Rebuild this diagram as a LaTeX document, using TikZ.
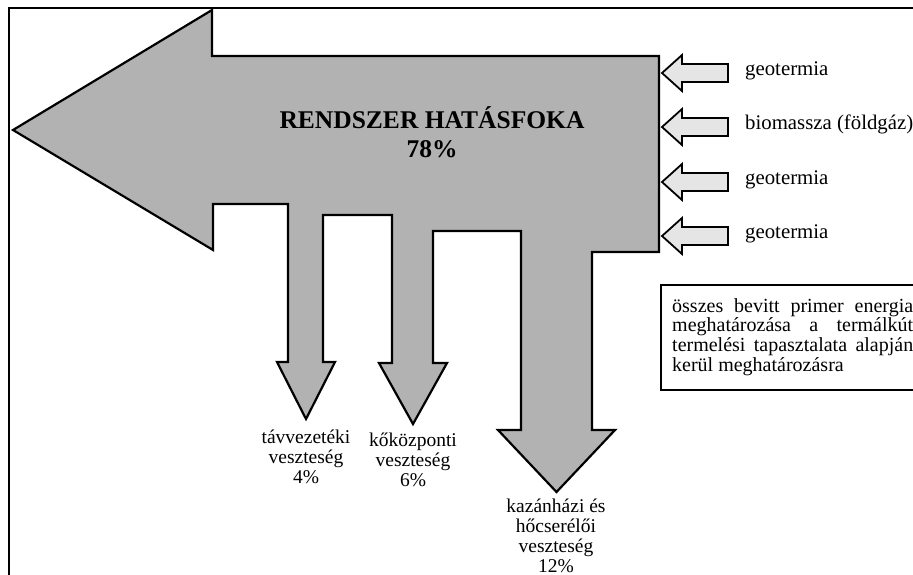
\documentclass[tikz,border=0pt]{standalone}
\usepackage{fontspec}
\setmainfont{Liberation Serif}
\begin{document}
\begin{tikzpicture}[x=1pt, y=-1pt,
    bigarrow/.style={draw, line width=2.2pt, fill=gray!60, line join=miter},
    inarrow/.style={draw, line width=1.8pt, fill=gray!20, line join=miter},
    srclabel/.style={font=\fontsize{20.8}{22}\selectfont, anchor=mid west, inner sep=0pt},
    losslabel/.style={font=\fontsize{19.5}{20}\selectfont, align=center, anchor=north, inner sep=0pt}]
\useasboundingbox (0,0) rectangle (913,574);
\clip (0,0) rectangle (913,574);
% Parameters
\def\tipx{662}
\def\headx{682}
\def\tailx{728}
\def\headh{18}
\def\shafth{9}

% Frame (cut off on the right and at the bottom)
\draw[line width=1.5pt] (9,600) -- (9,8) -- (930,8);

% Main arrow with the three loss arrows hanging from it
\draw[bigarrow] (13,130) -- (212,10) -- (212,56) -- (659,56) -- (659,252)
    -- (592,252) -- (592,430) -- (615,430) -- (556.5,492) -- (498,430) -- (521,430) -- (521,231)
    -- (433,231) -- (433,363) -- (447,363) -- (413,424) -- (379,363) -- (392,363) -- (392,215)
    -- (323,215) -- (323,362) -- (335,362) -- (306,419) -- (277,362) -- (288,362) -- (288,204)
    -- (213,204) -- (213,250) -- cycle;

\node (eff) [font=\bfseries\fontsize{25.5}{29}\selectfont, align=center, anchor=north, inner sep=0pt]
    at (432,106) {RENDSZER HATÁSFOKA\\78\%};

% Input arrows on the right
\foreach \y/\txt [count=\i] in {73/geotermia, 127/biomassza (földgáz), 182/geotermia, 236/geotermia} {
    \draw[inarrow] (\tipx,\y) -- (\headx,\y-\headh) -- (\headx,\y-\shafth) -- (\tailx,\y-\shafth)
        -- (\tailx,\y+\shafth) -- (\headx,\y+\shafth) -- (\headx,\y+\headh) -- cycle;
    \node[srclabel] (src\i) at (745,\y) {\txt};
}

% Loss labels
\node[losslabel] (pipe) at (306,430) {távvezetéki\\veszteség\\4\%};
\node[losslabel] (hub) at (413,433) {kőközponti\\veszteség\\6\%};
\node[losslabel] (boiler) at (556,499) {kazánházi és\\hőcserélői\\veszteség\\12\%};

% Note box
\draw[line width=1.3pt] (661,285) rectangle (930,390);
\node (note) [font=\fontsize{20}{19.7}\selectfont, align=left, anchor=north west, inner sep=0pt] at (672,298)
    {\makebox[241pt][s]{összes bevitt primer energia}\\
     \makebox[241pt][s]{meghatározása a termálkút}\\
     \makebox[241pt][s]{termelési tapasztalata alapján}\\
     kerül meghatározásra};
\end{tikzpicture}
\end{document}
